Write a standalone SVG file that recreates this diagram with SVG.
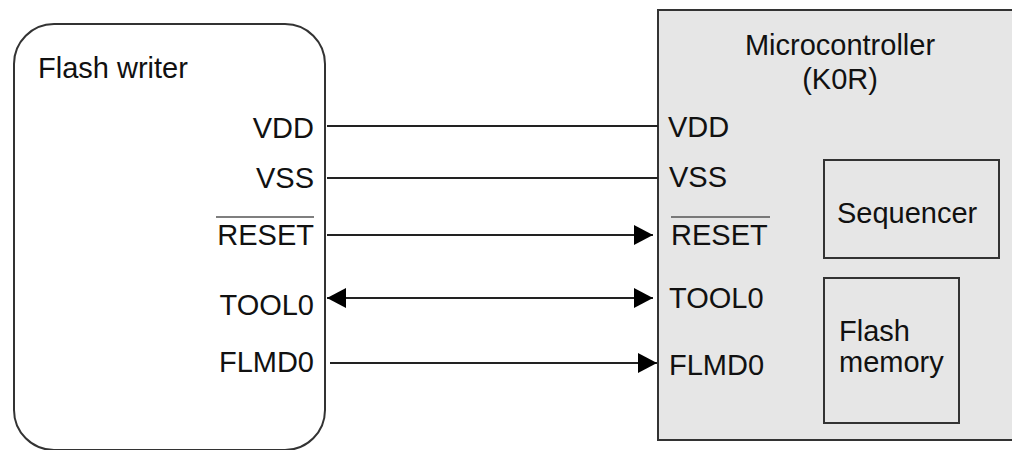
<svg xmlns="http://www.w3.org/2000/svg" width="1012" height="450" viewBox="0 0 1012 450">
<style>
text{font-family:"Liberation Sans",Arial,sans-serif;font-size:29px;fill:#111}
.box{stroke:#333;stroke-width:2}
.wire{stroke:#222;stroke-width:2;fill:none}
.ol{stroke:#555;stroke-width:1.5}
</style>
<defs>
<marker id="ah" markerUnits="userSpaceOnUse" markerWidth="19" markerHeight="20" refX="19" refY="10" orient="auto-start-reverse">
<path d="M0,0 L19,10 L0,20 Z" fill="#000"/>
</marker>
</defs>
<rect width="1012" height="450" fill="#fff"/>
<g id="flash-writer">
<rect class="box" x="14" y="24" width="311" height="426" rx="40" ry="40" fill="#fff"/>
<text x="38" y="78">Flash writer</text>
<g text-anchor="end">
<text x="314" y="138">VDD</text>
<text x="314" y="188">VSS</text>
<text x="314" y="245">RESET</text>
<text x="314" y="315">TOOL0</text>
<text x="314" y="372">FLMD0</text>
</g>
<line class="ol" x1="216" y1="217" x2="314" y2="217"/>
</g>
<g id="microcontroller">
<rect class="box" x="658" y="10" width="360" height="430" fill="#e6e6e6"/>
<text x="840" y="55" text-anchor="middle">Microcontroller</text>
<text x="840" y="89" text-anchor="middle">(K0R)</text>
<text x="668" y="137">VDD</text>
<text x="669" y="187">VSS</text>
<text x="671" y="245">RESET</text>
<line class="ol" x1="671" y1="217" x2="770" y2="217"/>
<text x="669" y="308">TOOL0</text>
<text x="669" y="375">FLMD0</text>
</g>
<g id="sequencer">
<rect class="box" x="824" y="160" width="175" height="98" fill="none"/>
<text x="837" y="223">Sequencer</text>
</g>
<g id="flash-memory">
<rect class="box" x="824" y="278" width="135" height="145" fill="none"/>
<text x="839" y="341">Flash</text>
<text x="839" y="372">memory</text>
</g>
<g id="connectors">
<line class="wire" x1="327" y1="126" x2="658" y2="126"/>
<line class="wire" x1="327" y1="178" x2="658" y2="178" stroke="#444"/>
<line class="wire" x1="327" y1="235" x2="653" y2="235" marker-end="url(#ah)"/>
<line class="wire" x1="327" y1="298" x2="653" y2="298" marker-start="url(#ah)" marker-end="url(#ah)"/>
<line class="wire" x1="330" y1="363" x2="657" y2="363" marker-end="url(#ah)"/>
</g>
</svg>
